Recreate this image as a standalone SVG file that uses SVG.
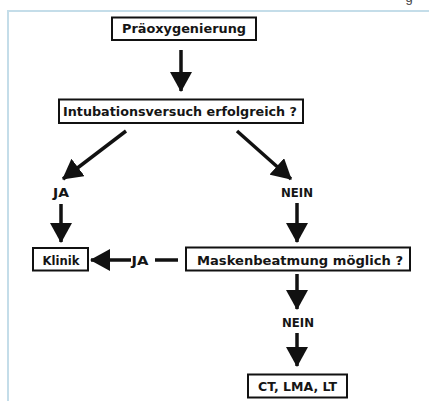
<svg xmlns="http://www.w3.org/2000/svg" width="429" height="401" viewBox="0 0 429 401">
<style>
.box rect{fill:#fff;stroke:#111;stroke-width:2}
text{font-family:"DejaVu Sans","Liberation Sans",Arial,sans-serif;font-weight:bold;font-size:13px;fill:#151515;text-anchor:middle}
.con line{stroke:#111;stroke-width:3.5}
.frame{stroke:#c4dde9;stroke-width:2;fill:none}
</style>
<defs>
<marker id="ah" viewBox="0 0 20 22" refX="19" refY="11" markerWidth="20" markerHeight="22" markerUnits="userSpaceOnUse" orient="auto">
<path d="M0,0 L20,11 L0,22 z" fill="#111"/>
</marker>
</defs>
<rect width="429" height="401" fill="#fff"/>
<path class="frame" d="M8,401 V11 H429"/>
<text x="409" y="1.5" style="font-weight:normal;fill:#444;font-family:'Liberation Sans',sans-serif" font-size="13">g</text>

<g id="n-praeox" class="box">
<rect x="112" y="17.5" width="144" height="22.5"/>
<text x="184" y="33" textLength="124" lengthAdjust="spacingAndGlyphs">Präoxygenierung</text>
</g>
<g id="n-intubation" class="box">
<rect x="59" y="99.5" width="244" height="23.5"/>
<text x="180" y="116" textLength="234" lengthAdjust="spacingAndGlyphs">Intubationsversuch erfolgreich ?</text>
</g>
<g id="n-klinik" class="box">
<rect x="33" y="248" width="55" height="22.5"/>
<text x="61" y="264.5" textLength="37" lengthAdjust="spacingAndGlyphs">Klinik</text>
</g>
<g id="n-maske" class="box">
<rect x="186" y="247.5" width="224" height="23"/>
<text x="300" y="264.5" textLength="206" lengthAdjust="spacingAndGlyphs">Maskenbeatmung möglich ?</text>
</g>
<g id="n-ct" class="box">
<rect x="248" y="374.5" width="99" height="23"/>
<text x="297.5" y="391" textLength="79" lengthAdjust="spacingAndGlyphs">CT, LMA, LT</text>
</g>

<g id="connectors" class="con">
<line x1="181" y1="50" x2="181" y2="91" marker-end="url(#ah)"/>
<line x1="126" y1="131" x2="63" y2="179" marker-end="url(#ah)"/>
<line x1="237" y1="131" x2="291" y2="179" marker-end="url(#ah)"/>
<line x1="61" y1="204" x2="61" y2="242" marker-end="url(#ah)"/>
<line x1="297" y1="203" x2="297" y2="242" marker-end="url(#ah)"/>
<line x1="178" y1="260" x2="155" y2="260"/>
<line x1="131" y1="260" x2="91" y2="260" marker-end="url(#ah)"/>
<line x1="297" y1="274" x2="297" y2="309" marker-end="url(#ah)"/>
<line x1="297" y1="333" x2="297" y2="366" marker-end="url(#ah)"/>
<text x="61" y="197" textLength="16" lengthAdjust="spacingAndGlyphs">JA</text>
<text x="297" y="197" textLength="32" lengthAdjust="spacingAndGlyphs">NEIN</text>
<text x="140" y="265" textLength="17" lengthAdjust="spacingAndGlyphs">JA</text>
<text x="298" y="327" textLength="32" lengthAdjust="spacingAndGlyphs">NEIN</text>
</g>
</svg>
